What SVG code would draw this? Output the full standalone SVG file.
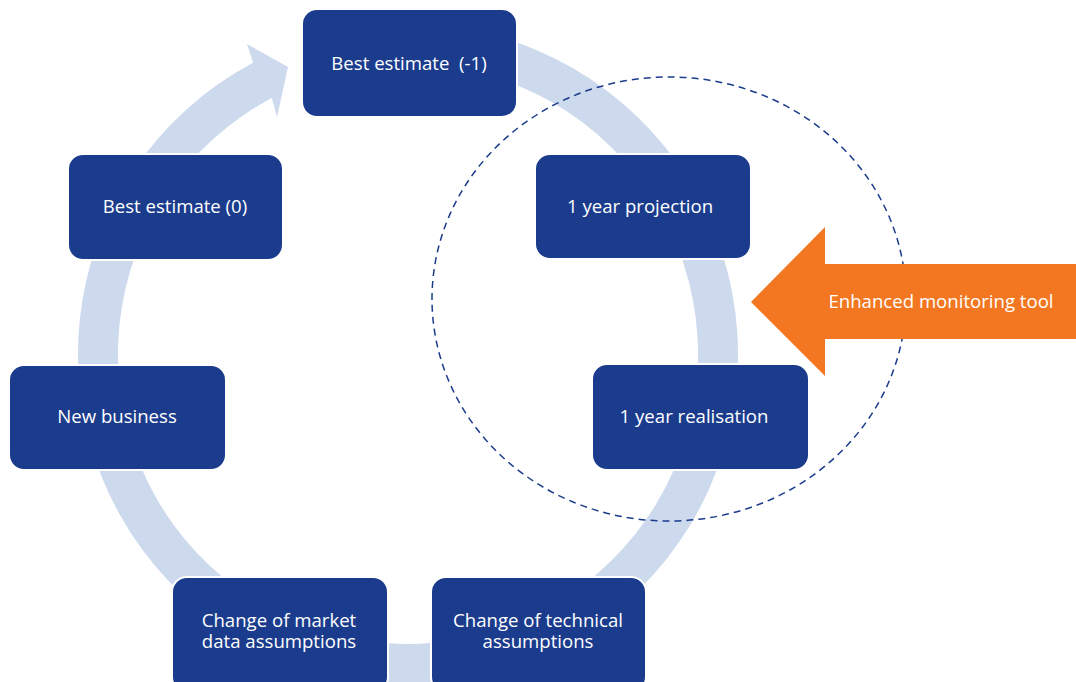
<svg xmlns="http://www.w3.org/2000/svg" width="1076" height="682" viewBox="0 0 1076 682">
<defs>
<style>
.node rect{fill:#1b3c8d;stroke:#ffffff;stroke-width:2}
.node text,.lbl{fill:#ffffff;font-family:"Open Sans","Noto Sans","Liberation Sans",sans-serif;font-size:18.6px;text-anchor:middle;dominant-baseline:central;white-space:pre}
.ring{fill:#cdd9ed}
.dash{fill:none;stroke:#1b3c8d;stroke-width:1.5;stroke-dasharray:7 5}
</style>
</defs>
<rect width="1076" height="682" fill="#ffffff"/>
<g id="connectors">
<path class="ring" d="M379.24,25.26 A330,330 0 1 1 253.07,62.63 L247,44 L288,67 L277,117 L271.85,97.94 A290,290 0 1 0 382.72,65.10 Z"/>
</g>
<g id="n1" class="node"><rect x="302" y="9" width="215" height="108" rx="15"/><text x="409" y="62" xml:space="preserve">Best estimate  (-1)</text></g>
<g id="n2" class="node"><rect x="535" y="154" width="216" height="105" rx="15"/><text x="640" y="205">1 year projection</text></g>
<g id="n3" class="node"><rect x="592" y="364" width="217" height="106" rx="15"/><text x="694" y="415">1 year realisation</text></g>
<g id="n4" class="node"><rect x="431" y="577" width="215" height="115" rx="15"/><text x="538" y="619">Change of technical</text><text x="538" y="640">assumptions</text></g>
<g id="n5" class="node"><rect x="172" y="577" width="216" height="115" rx="15"/><text x="279" y="619">Change of market</text><text x="279" y="640">data assumptions</text></g>
<g id="n6" class="node"><rect x="9" y="365" width="217" height="105" rx="15"/><text x="117" y="415">New business</text></g>
<g id="n7" class="node"><rect x="68" y="154" width="215" height="106" rx="15"/><text x="175" y="205">Best estimate (0)</text></g>
<g id="monitor">
<ellipse class="dash" cx="669" cy="299" rx="237" ry="222"/>
</g>
<g id="tool">
<polygon points="751,302 825,227 825,264 1076,264 1076,339 825,339 825,376" fill="#f37721"/>
<text class="lbl" x="941" y="300">Enhanced monitoring tool</text>
</g>
</svg>
